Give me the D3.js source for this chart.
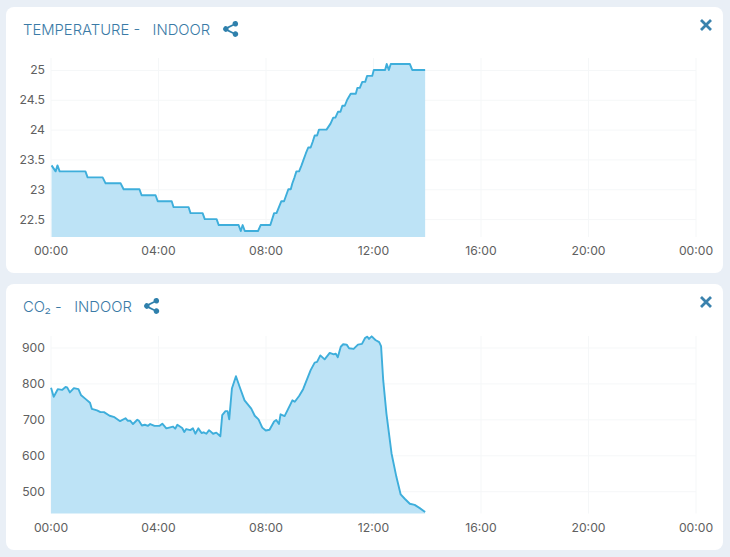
<!DOCTYPE html>
<html><head><meta charset="utf-8">
<script src="https://cdn.jsdelivr.net/npm/d3@7/dist/d3.min.js"></script>
<style>
html,body{margin:0;padding:0;background:#e9eff6;}
svg{display:block;}
text{font-family:Inter,"Noto Sans",sans-serif;}
.tick text{font-size:12.2px;fill:#606060;font-weight:400;}
</style></head><body>
<div id="chart"></div>
<script>
const tempHours=[0.04,0.19,0.26,0.34,1.30,1.38,1.94,2.05,2.61,2.72,3.31,3.39,3.91,3.99,4.51,4.58,5.14,5.21,5.66,5.74,6.18,6.26,7.00,7.08,7.15,7.23,7.72,7.82,8.18,8.32,8.41,8.50,8.59,8.69,8.77,8.85,8.94,9.00,9.08,9.15,9.25,9.34,9.42,9.50,9.59,9.68,9.76,9.83,9.92,9.99,10.27,10.42,10.52,10.60,10.70,10.79,10.86,10.95,11.04,11.17,11.36,11.42,11.51,11.60,11.71,11.78,11.97,12.03,12.45,12.51,12.59,12.66,13.37,13.46,13.94];
const tempValues=[23.4,23.3,23.4,23.3,23.3,23.2,23.2,23.1,23.1,23.0,23.0,22.9,22.9,22.8,22.8,22.7,22.7,22.6,22.6,22.5,22.5,22.4,22.4,22.3,22.4,22.3,22.3,22.4,22.4,22.6,22.6,22.7,22.8,22.8,22.9,23.0,23.0,23.1,23.2,23.3,23.3,23.4,23.5,23.6,23.7,23.7,23.8,23.9,23.9,24.0,24.0,24.1,24.2,24.2,24.3,24.3,24.4,24.4,24.5,24.6,24.6,24.7,24.7,24.8,24.8,24.9,24.9,25.0,25.0,25.1,25.0,25.1,25.1,25.0,25.0];
const co2Hours=[0.02,0.12,0.27,0.43,0.56,0.62,0.72,0.87,1.04,1.14,1.30,1.47,1.54,1.73,1.86,1.99,2.20,2.38,2.59,2.79,2.88,2.97,3.07,3.23,3.29,3.40,3.51,3.63,3.71,3.87,4.06,4.16,4.31,4.56,4.64,4.72,4.90,4.98,5.05,5.20,5.30,5.39,5.50,5.62,5.70,5.80,5.90,6.05,6.17,6.32,6.39,6.51,6.59,6.65,6.75,6.90,7.06,7.22,7.47,7.60,7.74,7.88,8.01,8.15,8.32,8.40,8.50,8.56,8.71,9.00,9.09,9.25,9.40,9.68,9.83,9.92,10.04,10.20,10.39,10.54,10.61,10.69,10.80,10.89,11.02,11.11,11.28,11.44,11.59,11.71,11.79,11.85,11.95,12.09,12.23,12.30,12.38,12.50,12.69,12.87,13.03,13.18,13.37,13.55,13.74,13.94];
const co2Values=[788,763,784,782,790,789,775,787,784,767,757,746,729,725,720,720,710,706,695,703,696,696,687,699,696,683,685,682,687,682,682,688,675,680,674,685,676,665,673,670,675,660,675,662,664,660,670,660,663,653,712,723,723,700,786,820,786,753,730,710,700,677,669,671,694,698,687,714,709,753,749,765,784,837,858,860,878,867,885,881,883,873,902,909,908,898,896,908,910,927,930,924,931,921,915,904,809,716,605,540,491,479,465,462,453,442];
const hourTicks=[0,4,8,12,16,20,24];
const hourLabels=["00:00","04:00","08:00","12:00","16:00","20:00","00:00"];
const tempTicks=[22.5,23,23.5,24,24.5,25];
const co2Ticks=[500,600,700,800,900];

const W=730,H=557;
const svg=d3.select("#chart").append("svg").attr("width",W).attr("height",H);
const x=d3.scaleLinear().domain([0,24]).range([50.5,695.5]);
const share="M9.5 2.8a2.8 2.8 0 1 1 .9 2.05L5.5 7.2a2.8 2.8 0 0 1 0 1.6l4.9 2.35a2.8 2.8 0 1 1-.75 1.6L4.4 10.3a2.8 2.8 0 1 1 0-4.6l5.25-2.45a2.8 2.8 0 0 1-.15-.45z";

function panel(o){
  svg.append("rect").attr("x",6).attr("y",o.cardTop).attr("width",717).attr("height",266).attr("rx",8).attr("fill","#fff");
  const y=d3.scaleLinear().domain(o.domain).range([o.bottom,o.top]);
  const gx=svg.append("g").attr("transform",`translate(0,${o.bottom})`)
    .call(d3.axisBottom(x).tickValues(hourTicks).tickFormat((d,i)=>hourLabels[i]).tickSize(o.top-o.bottom).tickPadding(0));
  gx.select(".domain").remove();
  gx.selectAll("line").attr("stroke","#f5f7f8");
  gx.selectAll("text").attr("y",14).attr("dy","0.35em");
  const gy=svg.append("g").attr("transform","translate(51,0)")
    .call(d3.axisLeft(y).tickValues(o.ticks).tickFormat(d3.format("")).tickSize(-645).tickPadding(6));
  gy.select(".domain").remove();
  gy.selectAll("line").attr("stroke","#f5f7f8");
  const pts=o.hours.map((h,i)=>[h,o.values[i]]);
  svg.append("path").datum(pts).attr("fill","#bde3f6")
    .attr("d",d3.area().x(d=>x(d[0])).y0(o.bottom).y1(d=>y(d[1])));
  svg.append("path").datum(pts).attr("fill","none").attr("stroke","#3eaedb").attr("stroke-width",1.9).attr("stroke-linejoin","round")
    .attr("d",d3.line().x(d=>x(d[0])).y(d=>y(d[1])));
  svg.append("text").attr("x",23).attr("y",o.cardTop+28).attr("font-size",o.fs).attr("font-weight",300).attr("fill","#3a7aa6").attr("xml:space","preserve").text(o.title);
  svg.append("path").attr("d",share).attr("fill","#2f80ac").attr("transform",`translate(${o.shareX-8},${o.cardTop+14})`);
  const cx=706,cy=o.cardTop+18;
  svg.append("path").attr("d",`M${cx-5} ${cy-5}L${cx+5} ${cy+5}M${cx+5} ${cy-5}L${cx-5} ${cy+5}`).attr("stroke","#3a82ad").attr("stroke-width",2.8);
}
panel({cardTop:7,top:58,bottom:237,domain:[22.2,25.2],ticks:tempTicks,hours:tempHours,values:tempValues,title:"TEMPERATURE -   INDOOR",fs:14.8,shareX:231});
panel({cardTop:284,top:336,bottom:513.5,domain:[438,932],ticks:co2Ticks,hours:co2Hours,values:co2Values,title:"CO₂ -   INDOOR",fs:14.8,shareX:152});
</script>
</body></html>
